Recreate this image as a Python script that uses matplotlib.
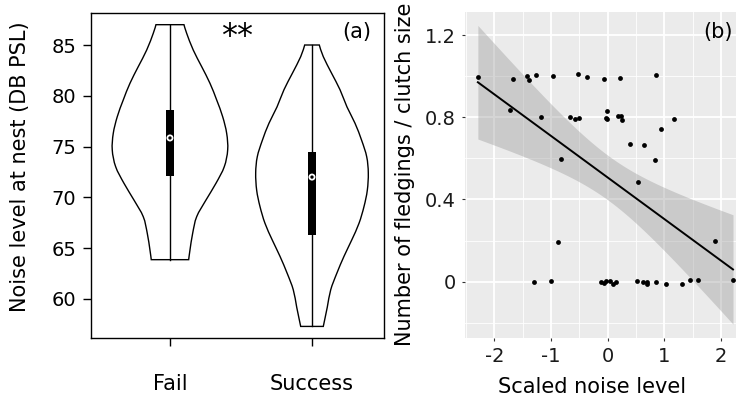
import numpy as np
import matplotlib
matplotlib.use("Agg")
import matplotlib.pyplot as plt
from matplotlib.path import Path
import matplotlib.patches as mpatches

# ---- panel (a): violin outlines ----
groups = ["Fail", "Success"]

fail_levels = [63.87, 64.82, 66.47, 68.1, 69.74, 71.39, 73.02, 74.67, 76.3,
               77.94, 79.59, 81.23, 82.87, 84.5, 86.15, 87.0]
fail_halfw = [18.7, 20, 22.7, 26.7, 36, 46, 54.3, 57.7, 56.7,
              52.7, 46.7, 40, 31.7, 23.3, 16.7, 14]

succ_levels = [57.3, 59.2, 60.9, 62.5, 64.2, 65.8, 67.45, 69.1, 70.7, 72.4,
               74.0, 75.6, 77.3, 78.9, 80.6, 82.2, 83.85, 85.0]
succ_halfw = [11.3, 15.3, 18.7, 24.7, 32, 39.7, 47, 52, 55.3, 56.3,
              54.7, 49.7, 43, 35, 28, 19.7, 11.3, 7.3]

box_q1 = [72.1, 66.3]
box_q3 = [78.6, 74.5]
medians = [75.85, 72.0]

# ---- panel (b): scatter points ----
noise = [-2.29, -1.67, -1.42, -1.38, -1.26, -0.965, -0.52, -0.36, -0.06, 0.21, 0.85,
         -1.72, -1.18, -0.665, -0.577, -0.51, -0.035, -0.005, -0.005, 0.18, 0.24, 0.245, 1.17, 0.935,
         0.39, 0.635, 0.84, -0.82, 0.54, -0.876, 1.90,
         -1.295, -1.005, -0.118, -0.07, -0.025, 0.04, 0.093, 0.152, 0.51, 0.617, 0.69, 0.69,
         0.852, 1.03, 1.305, 1.446, 1.60, 2.21]
fledge = [0.997, 0.986, 1.002, 0.983, 1.005, 1.0, 1.009, 0.996, 0.988, 0.989, 1.005,
          0.835, 0.803, 0.80, 0.793, 0.795, 0.796, 0.83, 0.791, 0.806, 0.804, 0.788, 0.793, 0.744,
          0.671, 0.665, 0.594, 0.595, 0.485, 0.192, 0.196,
          0.0, 0.003, 0.0, -0.006, 0.005, 0.005, -0.011, 0.0, 0.005, -0.001, -0.003, -0.01,
          0.0, -0.013, -0.011, 0.01, 0.008, 0.007]


def smooth(pts, first_code):
    verts = [pts[0]]
    codes = [first_code]
    n = len(pts)
    for i in range(n - 1):
        p0 = pts[max(i - 1, 0)]
        p1 = pts[i]
        p2 = pts[i + 1]
        p3 = pts[min(i + 2, n - 1)]
        verts += [p1 + (p2 - p0) / 6, p2 - (p3 - p1) / 6, p2]
        codes += [Path.CURVE4] * 3
    return verts, codes


def violin(ax, center, levels, halfw):
    lv = np.array(levels)
    hw = np.array(halfw) / 142.0
    right = np.column_stack([center + hw, lv])
    left = np.column_stack([center - hw, lv])[::-1]
    v1, c1 = smooth(right, Path.MOVETO)
    v2, c2 = smooth(left, Path.LINETO)
    verts = v1 + v2 + [right[0]]
    codes = c1 + c2 + [Path.CLOSEPOLY]
    ax.add_patch(mpatches.PathPatch(Path(verts, codes), facecolor="white",
                                    edgecolor="black", lw=1.0, zorder=2))
    ax.plot([center, center], [lv[0], lv[-1]], color="black", lw=1.0, zorder=3)


fig = plt.figure(figsize=(7.36, 3.98), dpi=100)

ax1 = fig.add_axes([91 / 736, 60 / 398, 293 / 736, 325 / 398])
violin(ax1, 1, fail_levels, fail_halfw)
violin(ax1, 2, succ_levels, succ_halfw)
for i in range(2):
    ax1.bar(i + 1, box_q3[i] - box_q1[i], bottom=box_q1[i], width=0.056,
            color="black", zorder=4)
ax1.scatter([1, 2], medians, s=14, facecolor="none", edgecolor="white",
            linewidths=1.3, zorder=5)
ax1.set_xlim(0.444, 2.507)
ax1.set_ylim(56.16, 88.15)
ax1.set_xticks([1, 2])
ax1.set_xticklabels(groups)
ax1.set_yticks([60, 65, 70, 75, 80, 85])
ax1.tick_params(axis="both", direction="out", length=6, width=1, labelsize=14)
ax1.tick_params(axis="y", pad=4.5)
ax1.tick_params(axis="x", pad=20, labelsize=15)
for sp in ax1.spines.values():
    sp.set_linewidth(1.0)
ax1.set_ylabel("Noise level at nest (DB PSL)", fontsize=15)
ax1.yaxis.set_label_coords(-0.208, 0.528)
ax1.text(1.472, 85.0, "**", fontsize=23, ha="center", va="baseline")
ax1.text(0.856, 0.942, "(a)", transform=ax1.transAxes, fontsize=15,
         ha="left", va="center")

# ---- panel (b) ----
ax2 = fig.add_axes([465 / 736, 60 / 398, 271 / 736, 326 / 398])
ax2.set_facecolor("#EBEBEB")
for sp in ax2.spines.values():
    sp.set_visible(False)
ax2.set_xlim(-2.517, 2.263)
ax2.set_ylim(-0.274, 1.312)
ax2.set_xticks([-2, -1, 0, 1, 2])
ax2.set_xticklabels(["-2", "-1", "0", "1", "2"])
ax2.set_yticks([0, 0.4, 0.8, 1.2])
ax2.set_yticklabels(["0", "0.4", "0.8", "1.2"])
ax2.set_xticks([-2.5, -1.5, -0.5, 0.5, 1.5], minor=True)
ax2.set_yticks([-0.2, 0.2, 0.6, 1.0], minor=True)
ax2.grid(which="major", color="white", lw=1.3)
ax2.grid(which="minor", color="white", lw=0.6)
ax2.set_axisbelow(True)
ax2.tick_params(which="major", length=2.5, width=0.8, color="#333333",
                labelsize=14, labelcolor="#1a1a1a", pad=4)
ax2.tick_params(which="minor", length=0)

x = np.array(noise)
y = np.array(fledge)
n = len(x)
slope, icpt = np.polyfit(x, y, 1)
resid = y - (icpt + slope * x)
s = np.sqrt(np.sum(resid ** 2) / (n - 2))
xs = np.linspace(x.min(), x.max(), 80)
se = s * np.sqrt(1 / n + (xs - x.mean()) ** 2 / np.sum((x - x.mean()) ** 2))
t = 2.012
fit = icpt + slope * xs
ax2.fill_between(xs, fit - t * se, fit + t * se, color="#999999", alpha=0.4,
                 lw=0, zorder=2)
ax2.plot(xs, fit, color="black", lw=1.4, zorder=3)
ax2.scatter(x, y, s=12, color="black", lw=0, zorder=4)
ax2.set_xlabel("Scaled noise level", fontsize=15)
ax2.set_ylabel("Number of fledgings / clutch size", fontsize=15)
ax2.yaxis.set_label_coords(-0.185, 0.503)
ax2.xaxis.set_label_coords(0.47, -0.151)
ax2.xaxis.label.set_va("center")
ax2.text(0.88, 0.939, "(b)", transform=ax2.transAxes, fontsize=15,
         ha="left", va="center")

fig.savefig("out.png", dpi=100)
